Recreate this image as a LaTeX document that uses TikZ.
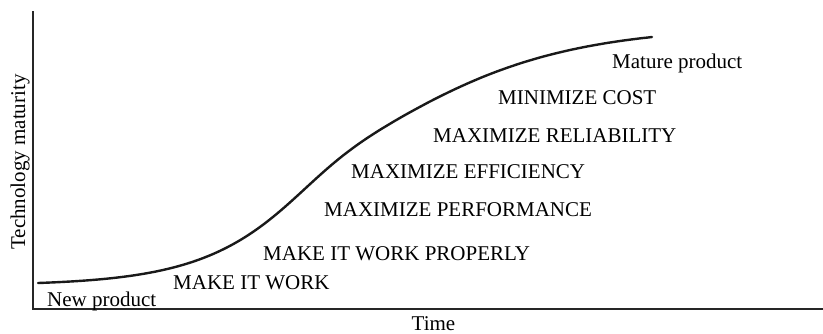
\documentclass[tikz,border=0pt]{standalone}
\usepackage{fontspec}
\setmainfont{Liberation Serif}
\begin{document}
\begin{tikzpicture}[x=1pt,y=-1pt,
  lbl/.style={font=\fontsize{21}{24}\selectfont, inner sep=0pt, anchor=base west},
  axis/.style={line width=1.5pt, black!85},
  curve/.style={line width=2.4pt, black!90, line cap=round}]
\useasboundingbox (0,0) rectangle (823,333);
\coordinate (top) at (33,11);
\coordinate (origin) at (33,309);
\coordinate (right) at (823,309);
\draw[axis] (top) -- (origin) -- (right);
\draw[curve] plot[domain=38:652, samples=120, smooth]
  (\x, {283-246*((1/(1+exp(-(\x-343)/(82.5+17.5*tanh((\x-343)/60)))))-0.0091)/0.9474});
\node[lbl] (np) at (47,306) {New product};
\node[lbl] (w1) at (173,289) {MAKE IT WORK};
\node[lbl] (w2) at (263,260) {MAKE IT WORK PROPERLY};
\node[lbl] (w3) at (324,216) {MAXIMIZE PERFORMANCE};
\node[lbl] (w4) at (351,178) {MAXIMIZE EFFICIENCY};
\node[lbl] (w5) at (433,142) {MAXIMIZE RELIABILITY};
\node[lbl] (w6) at (498,104) {MINIMIZE COST};
\node[lbl] (mp) at (612,68) {Mature product};
\node[lbl, anchor=base] (time) at (433.5,330) {Time};
\node[lbl, anchor=base, rotate=90] (ylab) at (25,162) {Technology maturity};
\end{tikzpicture}
\end{document}
